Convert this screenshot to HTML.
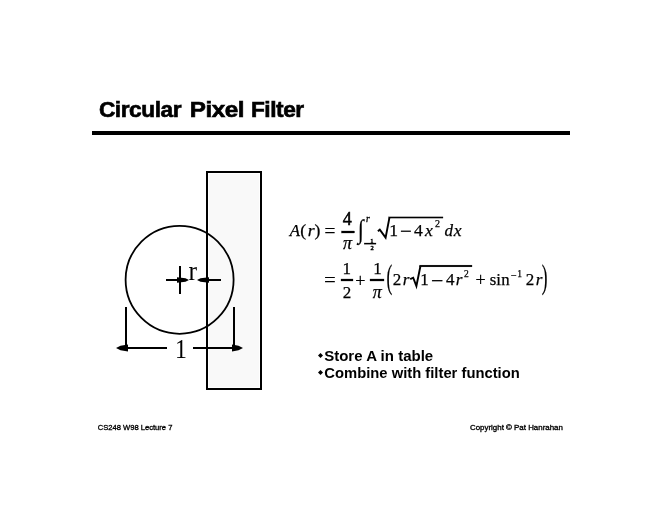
<!DOCTYPE html>
<html><head><meta charset="utf-8"><title>Circular Pixel Filter</title>
<style>
html,body{margin:0;padding:0;background:#fff;}
body{width:660px;height:510px;overflow:hidden;}
svg{display:block;will-change:transform;}
</style></head>
<body>
<svg width="660" height="510" viewBox="0 0 660 510">
<rect x="0" y="0" width="660" height="510" fill="#ffffff"/>
<!-- title -->
<text font-family="Liberation Sans" font-weight="bold" font-size="21" stroke="#000" stroke-width="0.6" letter-spacing="-0.4" transform="translate(98.92 117.00) scale(1.0789 1.0700)">Circular</text>
<text font-family="Liberation Sans" font-weight="bold" font-size="21" stroke="#000" stroke-width="0.6" letter-spacing="-0.4" transform="translate(189.75 117.00) scale(1.1533 1.0700)">Pixel</text>
<text font-family="Liberation Sans" font-weight="bold" font-size="21" stroke="#000" stroke-width="0.6" letter-spacing="-0.4" transform="translate(250.92 117.00) scale(1.0796 1.0700)">Filter</text>
<text font-family="Liberation Sans" font-weight="bold" font-size="14.5" transform="translate(324.16 360.70) scale(1.0365 1.0300)">Store A in table</text>
<text font-family="Liberation Sans" font-weight="bold" font-size="14.5" transform="translate(324.28 377.70) scale(1.0200 1.0300)">Combine with filter function</text>
<text font-family="Liberation Sans" font-size="7" stroke="#000" stroke-width="0.3" transform="translate(97.70 430.00) scale(1.0870 1.0000)">CS248 W98 Lecture 7</text>
<text font-family="Liberation Sans" font-size="7" stroke="#000" stroke-width="0.3" transform="translate(470.00 430.00) scale(1.1305 1.0000)">Copyright © Pat Hanrahan</text>
<rect x="92" y="131" width="478" height="4" fill="#000"/>
<!-- diagram -->
<rect x="207" y="172" width="54" height="217" fill="#f9f9f9" stroke="#000" stroke-width="2"/>
<rect x="208.5" y="173.5" width="51" height="214" fill="none" stroke="#fff" stroke-width="1"/>
<circle cx="179.6" cy="279.8" r="54" fill="none" stroke="#000" stroke-width="1.8"/>
<!-- center cross -->
<rect x="179" y="266" width="2" height="28" fill="#000"/>
<rect x="166" y="279" width="14" height="2" fill="#000"/>
<polygon points="177,277.2 185.5,278.2 189,280 185.5,281.8 177,282.8" fill="#000"/>
<!-- right arrow -->
<polygon points="209,277.2 200.5,278.2 197,280 200.5,281.8 209,282.8" fill="#000"/>
<rect x="206" y="279" width="15" height="2" fill="#000"/>
<text transform="translate(188.6 279.8) scale(0.95 1)" font-family="Liberation Serif" font-size="27">r</text>
<!-- dimension -->
<rect x="125" y="307" width="2" height="42" fill="#000"/>
<rect x="233" y="307" width="2" height="42" fill="#000"/>
<rect x="118" y="347" width="49" height="2" fill="#000"/>
<rect x="193" y="347" width="45" height="2" fill="#000"/>
<polygon points="128,344.5 120.5,345.7 116,348 120.5,350.3 128,351.5" fill="#000"/>
<polygon points="232,344.5 238.5,345.7 243,348 238.5,350.3 232,351.5" fill="#000"/>
<text transform="translate(174.9 358) scale(0.88 1)" font-family="Liberation Serif" font-size="27">1</text>
<!-- math -->
<g fill="#000" stroke="#000" stroke-width="0.25">
<text font-family="Liberation Serif" font-style="italic" font-size="16.80" transform="translate(289.85 235.90) scale(1.000 1.000)">A</text>
<text font-family="Liberation Serif" font-size="17.60" transform="translate(300.32 235.95) scale(1.000 1.000)">(</text>
<text font-family="Liberation Serif" font-style="italic" font-size="17.60" transform="translate(307.69 235.90) scale(1.000 1.000)">r</text>
<text font-family="Liberation Serif" font-size="17.60" transform="translate(314.52 235.95) scale(1.000 1.000)">)</text>
<text font-family="Liberation Serif" stroke="none" font-size="20.20" transform="translate(324.29 238.11) scale(1.000 1.000)">=</text>
<text font-family="Liberation Serif" stroke="#000" stroke-width="0.50" font-size="18.00" transform="translate(342.71 224.50) scale(1.000 1.000)">4</text>
<text font-family="Liberation Serif" font-style="italic" font-size="18.00" transform="translate(342.94 249.32) scale(1.000 1.000)">π</text>
<text font-family="Liberation Serif" font-size="26.38" transform="translate(357.83 237.83) scale(0.800 1.000)">∫</text>
<text font-family="Liberation Serif" font-style="italic" stroke="#000" stroke-width="0.35" font-size="9.50" transform="translate(365.90 221.50) scale(1.000 1.000)">r</text>
<text font-family="Liberation Serif" stroke="#000" stroke-width="0.45" font-size="6.50" transform="translate(370.33 242.50) scale(1.000 1.000)">1</text>
<text font-family="Liberation Serif" stroke="#000" stroke-width="0.45" font-size="6.50" transform="translate(370.61 249.50) scale(1.000 1.000)">2</text>
<text font-family="Liberation Serif" font-size="17.60" transform="translate(389.31 235.90) scale(1.000 1.000)">1</text>
<text font-family="Liberation Serif" font-size="20.85" transform="translate(400.06 238.47) scale(1.000 1.000)">−</text>
<text font-family="Liberation Serif" font-size="17.60" transform="translate(413.92 235.90) scale(1.000 1.000)">4</text>
<text font-family="Liberation Serif" font-style="italic" font-size="17.60" transform="translate(424.92 235.90) scale(1.000 1.000)">x</text>
<text font-family="Liberation Serif" font-size="10.00" transform="translate(435.06 227.30) scale(1.000 1.000)">2</text>
<text font-family="Liberation Serif" font-style="italic" font-size="17.00" transform="translate(444.42 235.73) scale(1.000 1.000)">d</text>
<text font-family="Liberation Serif" font-style="italic" font-size="17.60" transform="translate(453.77 235.90) scale(1.000 1.000)">x</text>
<text font-family="Liberation Serif" stroke="none" font-size="21.06" transform="translate(323.95 287.19) scale(1.000 1.000)">=</text>
<text font-family="Liberation Serif" font-size="17.00" transform="translate(342.46 273.70) scale(1.000 1.000)">1</text>
<text font-family="Liberation Serif" font-size="17.00" transform="translate(342.75 298.30) scale(1.000 1.000)">2</text>
<text font-family="Liberation Serif" font-size="18.05" transform="translate(355.30 287.04) scale(1.000 1.000)">+</text>
<text font-family="Liberation Serif" font-size="17.00" transform="translate(373.36 273.70) scale(1.000 1.000)">1</text>
<text font-family="Liberation Serif" font-style="italic" font-size="18.00" transform="translate(372.69 298.12) scale(1.000 1.000)">π</text>
<text font-family="Liberation Serif" font-size="34.41" transform="translate(386.53 287.97) scale(0.500 1.000)">(</text>
<text font-family="Liberation Serif" font-size="17.00" transform="translate(392.70 284.70) scale(1.000 1.000)">2</text>
<text font-family="Liberation Serif" font-style="italic" font-size="17.00" transform="translate(402.67 284.70) scale(1.000 1.000)">r</text>
<text font-family="Liberation Serif" font-size="17.00" transform="translate(420.26 284.70) scale(1.000 1.000)">1</text>
<text font-family="Liberation Serif" font-size="21.92" transform="translate(431.01 287.58) scale(1.000 1.000)">−</text>
<text font-family="Liberation Serif" font-size="17.00" transform="translate(446.12 284.70) scale(1.000 1.000)">4</text>
<text font-family="Liberation Serif" font-style="italic" font-size="17.00" transform="translate(455.82 284.70) scale(1.000 1.000)">r</text>
<text font-family="Liberation Serif" font-size="9.50" transform="translate(464.08 276.50) scale(1.000 1.000)">2</text>
<text font-family="Liberation Serif" font-size="18.05" transform="translate(475.40 286.44) scale(1.000 1.000)">+</text>
<text font-family="Liberation Serif" font-size="16.80" transform="translate(489.64 284.54) scale(1.000 1.000)">s</text>
<text font-family="Liberation Serif" font-size="16.80" transform="translate(496.20 284.70) scale(1.000 1.000)">i</text>
<text font-family="Liberation Serif" font-size="16.80" transform="translate(501.23 284.70) scale(1.000 1.000)">n</text>
<text font-family="Liberation Serif" font-size="10.32" transform="translate(510.99 278.72) scale(1.000 1.000)">−</text>
<text font-family="Liberation Serif" font-size="9.50" transform="translate(517.14 276.70) scale(1.000 1.000)">1</text>
<text font-family="Liberation Serif" font-size="17.00" transform="translate(525.85 284.70) scale(1.000 1.000)">2</text>
<text font-family="Liberation Serif" font-style="italic" font-size="17.00" transform="translate(535.72 284.70) scale(1.000 1.000)">r</text>
<text font-family="Liberation Serif" font-size="34.41" transform="translate(541.64 287.97) scale(0.500 1.000)">)</text>
<rect x="341.5" y="231" width="13" height="2"/>
<rect x="364.2" y="243" width="11.8" height="1.2"/>
<path d="M377.9 231.2 L379.8 229.6 L385.6 237.6 L389.4 217.9" fill="none" stroke="#000" stroke-width="1.9" stroke-linejoin="miter"/>
<rect x="388.6" y="216.9" width="54.4" height="1.2"/>
<rect x="341" y="279" width="12" height="2"/>
<rect x="370" y="279" width="14" height="2"/>
<path d="M410.2 279.2 L413.2 277.7 L416.4 286.0 L420.4 266.2" fill="none" stroke="#000" stroke-width="1.9" stroke-linejoin="miter"/>
<rect x="419.6" y="265.1" width="52.4" height="1.8"/>
</g>
<!-- bullets -->
<polygon points="320.5,353 323,355.5 320.5,358 318,355.5" fill="#000"/>
<polygon points="320.5,370 323,372.5 320.5,375 318,372.5" fill="#000"/>
</svg>
</body></html>
